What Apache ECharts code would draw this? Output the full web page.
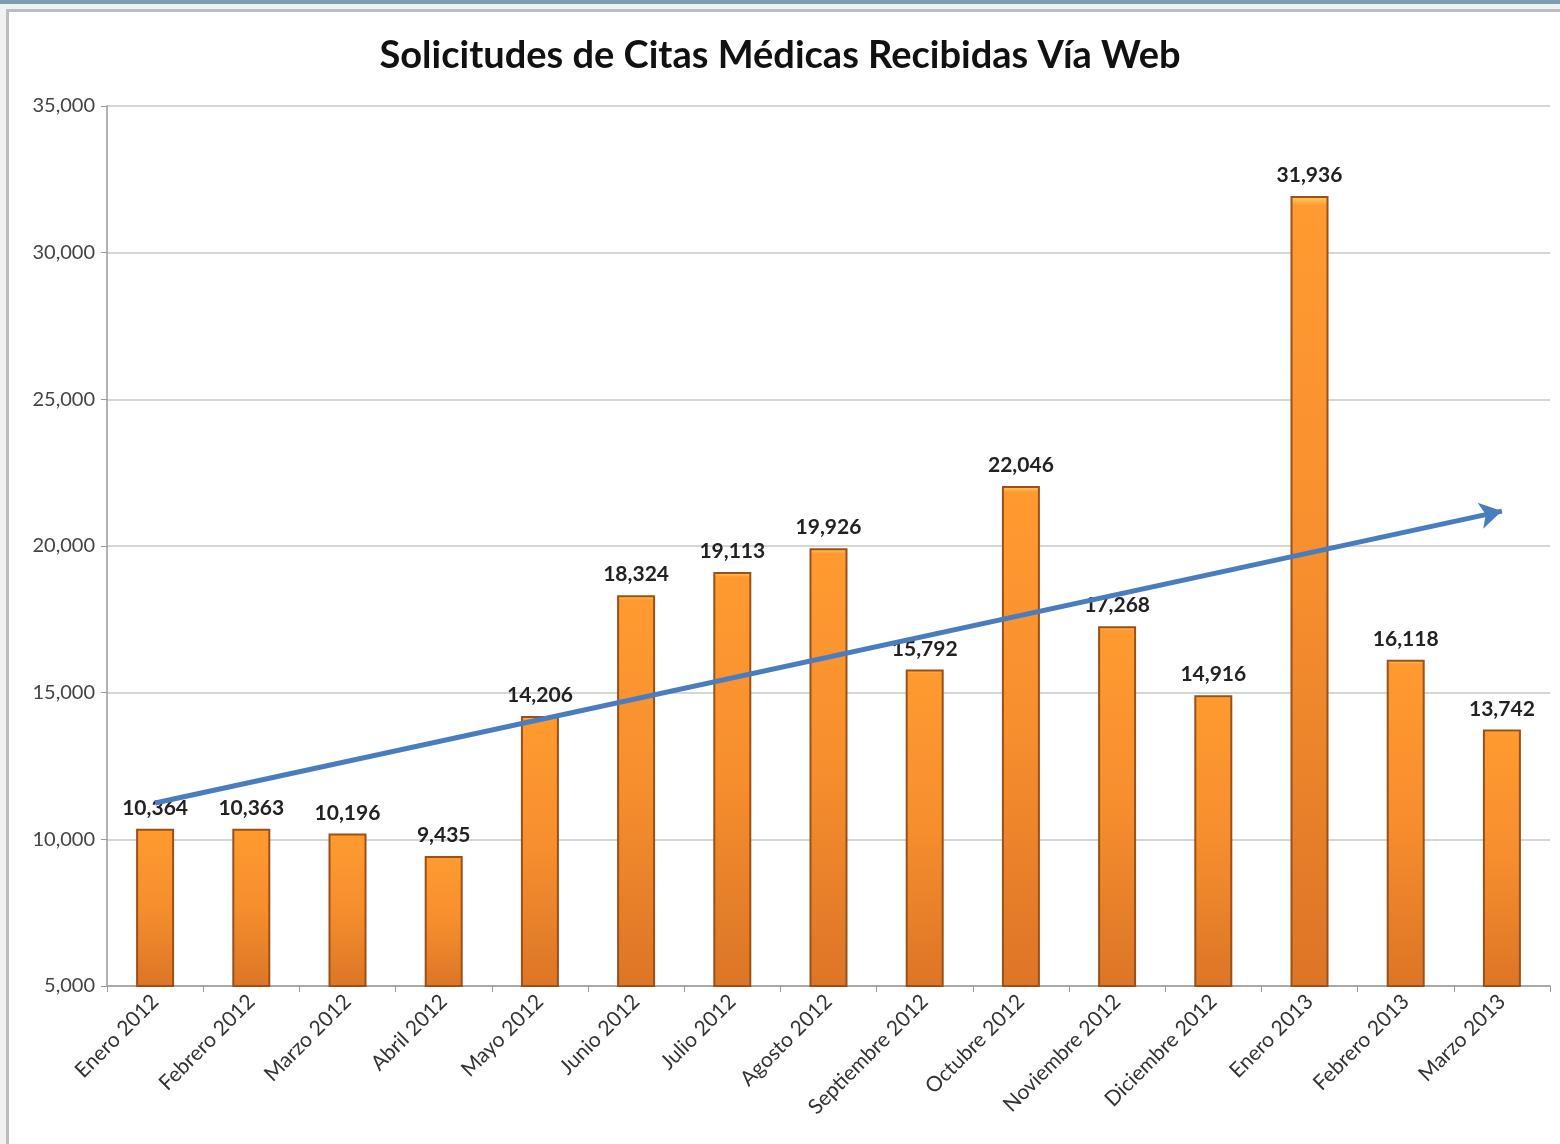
<!DOCTYPE html>
<html>
<head>
<meta charset="utf-8">
<script src="https://cdn.jsdelivr.net/npm/echarts@6/dist/echarts.min.js"></script>
<style>
  html, body { margin: 0; padding: 0; background: #fff; }
  #main { width: 1560px; height: 1144px; }
</style>
</head>
<body>
<div id="main"></div>
<script>
const months = [
  "Enero 2012", "Febrero 2012", "Marzo 2012", "Abril 2012", "Mayo 2012",
  "Junio 2012", "Julio 2012", "Agosto 2012", "Septiembre 2012", "Octubre 2012",
  "Noviembre 2012", "Diciembre 2012", "Enero 2013", "Febrero 2013", "Marzo 2013"
];
const requests = [
  10364, 10363, 10196, 9435, 14206, 18324, 19113, 19926,
  15792, 22046, 17268, 14916, 31936, 16118, 13742
];
// hand-drawn trend arrow, start and end
const trendStart = [0, 11240];
const trendEnd = [14, 21190];

const chart = echarts.init(document.getElementById("main"));

const option = {
  backgroundColor: "#fff",
  title: {
    text: "Solicitudes de Citas Médicas Recibidas Vía Web",
    left: "center",
    top: 32,
    textStyle: {
      fontFamily: "Lato",
      fontWeight: "bold",
      fontSize: 38,
      color: "#111",
    },
  },
  graphic: [
    { type: "rect", shape: { x: 0, y: 0, width: 1560, height: 4 }, style: { fill: "#7f9bb0" } },
    { type: "rect", shape: { x: 0, y: 4, width: 1560, height: 5 }, style: { fill: "#eef1f2" } },
    { type: "rect", shape: { x: 0, y: 9, width: 1560, height: 3 }, style: { fill: "#bdbdbd" } },
    { type: "rect", shape: { x: 0, y: 9, width: 8, height: 1135 }, style: { fill: "#f1f1f1" } },
    { type: "rect", shape: { x: 6, y: 9, width: 3, height: 1135 }, style: { fill: "#bdbdbd" } },
  ],
  grid: {
    left: 107,
    right: 10,
    top: 106,
    bottom: 158,
  },
  xAxis: {
    type: "category",
    data: months,
    axisLine: { lineStyle: { color: "#9a9a9a", width: 1.5 } },
    axisTick: { show: true, length: 6, lineStyle: { color: "#9a9a9a" } },
    axisLabel: {
      rotate: 45,
      fontFamily: "Lato",
      fontSize: 21,
      color: "#333",
      margin: 12,
    },
  },
  yAxis: {
    type: "value",
    min: 5000,
    max: 35000,
    interval: 5000,
    axisLine: { show: true, lineStyle: { color: "#9a9a9a", width: 1.5 } },
    axisTick: { show: true, length: 6, lineStyle: { color: "#9a9a9a" } },
    splitLine: { lineStyle: { color: "#c9c9c9", width: 1.5 } },
    axisLabel: {
      fontFamily: "Lato",
      fontSize: 20,
      color: "#444",
      margin: 12,
      formatter: (v) => v.toLocaleString("en-US"),
    },
  },
  series: [
    {
      type: "bar",
      data: requests,
      barWidth: 38,
      itemStyle: {
        color: {
          type: "linear",
          x: 0, y: 0, x2: 0, y2: 1,
          colorStops: [
            { offset: 0, color: "#ffd460" },
            { offset: 0.012, color: "#ff9a30" },
            { offset: 0.5, color: "#f68e2e" },
            { offset: 1, color: "#dc7526" },
          ],
        },
        borderColor: "#9a5016",
        borderWidth: 2,
      },
      label: {
        show: true,
        position: "top",
        distance: 10,
        fontFamily: "Lato",
        fontWeight: "bold",
        fontSize: 21,
        color: "#222",
        formatter: (p) => p.value.toLocaleString("en-US"),
      },
      markLine: {
        silent: true,
        symbol: ["none", "arrow"],
        symbolSize: [20, 22],
        lineStyle: { color: "#4a7cc0", width: 5, type: "solid" },
        label: { show: false },
        data: [[{ coord: trendStart }, { coord: trendEnd }]],
      },
    },
  ],
};

option && chart.setOption(option);
</script>
</body>
</html>
